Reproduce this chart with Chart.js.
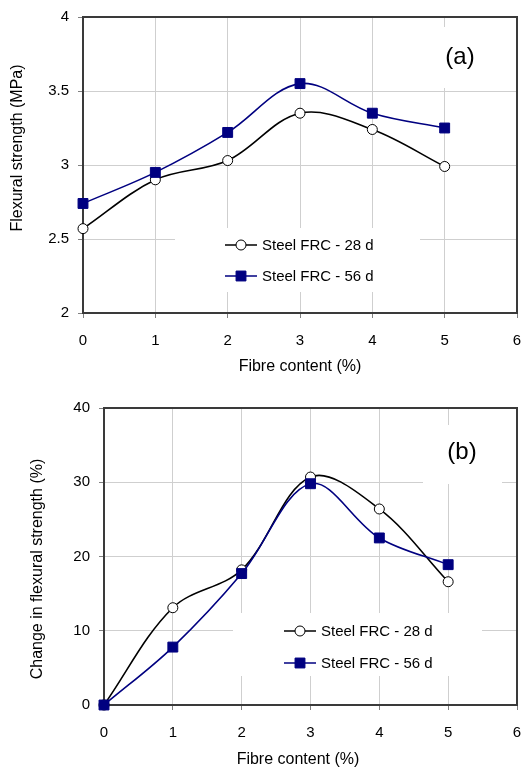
<!DOCTYPE html>
<html>
<head>
<meta charset="utf-8">
<script src="https://cdn.jsdelivr.net/npm/chart.js@4.4.1/dist/chart.umd.min.js"></script>
<style>
  html, body { margin: 0; padding: 0; background: #fff; }
  #wrap { position: relative; width: 525px; height: 767px; overflow: hidden; }
  canvas { position: absolute; left: 0; }
  #chartA { top: 0; }
  #chartB { top: 380px; }
</style>
</head>
<body>
<div id="wrap">
  <canvas id="chartA" width="525" height="380"></canvas>
  <canvas id="chartB" width="525" height="387"></canvas>
</div>
<script>
// values
const fibreContent = [0, 1, 2, 3, 4, 5];
const strength28 = [2.57, 2.90, 3.03, 3.35, 3.24, 2.99];
const strength56 = [2.74, 2.95, 3.22, 3.55, 3.35, 3.25];
const change28 = [0, 13.1, 18.2, 30.7, 26.4, 16.6];
const change56 = [0, 7.8, 17.7, 29.8, 22.5, 18.9];
const seriesLabels = ['Steel FRC - 28 d', 'Steel FRC - 56 d'];

const FONT = 'Liberation Sans, Arial, sans-serif';
const NAVY = '#000080';
const AXIS = '#3a3a3a';
const GRID = '#cfcfcf';

function toPoints(ys) {
    return fibreContent.map((x, i) => ({ x: x, y: ys[i] }));
}

// draws the outer frame, white boxes, legend, panel label and axis titles
const decorPlugin = {
    id: 'decor',
    beforeDatasetsDraw(chart, args, opts) {
        const ctx = chart.ctx;
        const a = chart.chartArea;
        ctx.save();
        ctx.fillStyle = '#fff';
        const lb = opts.legendBox;
        ctx.fillRect(lb.x, lb.y, lb.w, lb.h);
        const pb = opts.labelBox;
        ctx.fillRect(pb.x, pb.y, pb.w, pb.h);
        ctx.strokeStyle = AXIS;
        ctx.lineWidth = 2;
        ctx.beginPath();
        ctx.moveTo(a.left, a.top);
        ctx.lineTo(a.right, a.top);
        ctx.lineTo(a.right, a.bottom);
        ctx.stroke();
        ctx.restore();
    },
    afterDraw(chart, args, opts) {
        const ctx = chart.ctx;
        ctx.save();
        ctx.fillStyle = '#000';

        // panel label
        ctx.font = '24px ' + FONT;
        ctx.textAlign = 'center';
        ctx.textBaseline = 'middle';
        ctx.fillText(opts.panel.text, opts.panel.x, opts.panel.y);

        // legend
        const lg = opts.legend;
        chart.data.datasets.forEach((ds, i) => {
            const y = lg.rows[i];
            const cx = (lg.x1 + lg.x2) / 2;
            ctx.strokeStyle = ds.borderColor;
            ctx.lineWidth = 1.5;
            ctx.beginPath();
            ctx.moveTo(lg.x1, y);
            ctx.lineTo(lg.x2, y);
            ctx.stroke();
            ctx.fillStyle = ds.pointBackgroundColor;
            ctx.strokeStyle = ds.pointBorderColor;
            ctx.lineWidth = ds.pointBorderWidth;
            ctx.beginPath();
            if (ds.pointStyle === 'rect') {
                const s = Math.SQRT1_2 * ds.pointRadius;
                ctx.rect(cx - s, y - s, 2 * s, 2 * s);
            } else {
                ctx.arc(cx, y, ds.pointRadius, 0, Math.PI * 2);
            }
            ctx.fill();
            ctx.stroke();
            ctx.fillStyle = '#000';
            ctx.font = '15px ' + FONT;
            ctx.textAlign = 'left';
            ctx.textBaseline = 'middle';
            ctx.fillText(ds.label, lg.tx, y + 1);
        });

        // axis titles
        ctx.font = '16px ' + FONT;
        ctx.textAlign = 'center';
        ctx.textBaseline = 'middle';
        ctx.fillText('Fibre content (%)', opts.xTitle.x, opts.xTitle.y);
        ctx.translate(opts.yTitle.x, opts.yTitle.y);
        ctx.rotate(-Math.PI / 2);
        ctx.fillText(opts.yTitle.text, 0, 0);
        ctx.restore();
    }
};

function makeChart(id, ys28, ys56, yMin, yMax, yStep, box, decor) {
    const datasets = [
        {
            label: seriesLabels[0],
            data: toPoints(ys28),
            borderColor: '#000',
            borderWidth: 1.6,
            pointStyle: 'circle',
            pointRadius: 5,
            pointBorderWidth: 1,
            pointBackgroundColor: '#fff',
            pointBorderColor: '#000',
            tension: 0.35,
            clip: false,
            order: 1,
        },
        {
            label: seriesLabels[1],
            data: toPoints(ys56),
            borderColor: NAVY,
            borderWidth: 1.6,
            pointStyle: 'rect',
            pointRadius: 7,
            pointBorderWidth: 1,
            pointBackgroundColor: NAVY,
            pointBorderColor: NAVY,
            tension: 0.35,
            clip: false,
            order: 0,
        },
    ];
    return new Chart(document.getElementById(id), {
        type: 'line',
        data: { datasets: datasets },
        plugins: [decorPlugin],
        options: {
            responsive: false,
            animation: false,
            layout: { padding: { top: box.top, right: box.right, left: 0, bottom: 0 } },
            plugins: {
                legend: { display: false },
                tooltip: { enabled: false },
                decor: decor,
            },
            scales: {
                x: {
                    type: 'linear',
                    min: 0,
                    max: 6,
                    ticks: { stepSize: 1, maxRotation: 0, color: '#000', padding: 14, font: { family: FONT, size: 15 } },
                    grid: { color: GRID, tickColor: '#808080', tickLength: 5 },
                    border: { color: AXIS, width: 2 },
                    afterFit(scale) {
                        scale.height = box.xHeight;
                        scale.paddingLeft = 0;
                        scale.paddingRight = 0;
                    },
                },
                y: {
                    min: yMin,
                    max: yMax,
                    ticks: {
                        stepSize: yStep,
                        color: '#000',
                        padding: 9,
                        font: { family: FONT, size: 15 },
                        callback: (v) => String(v),
                    },
                    grid: { color: GRID, tickColor: '#808080', tickLength: 5 },
                    border: { color: AXIS, width: 2 },
                    afterFit(scale) {
                        scale.width = box.yWidth;
                        scale.paddingTop = 0;
                        scale.paddingBottom = 0;
                    },
                },
            },
        },
    });
}

makeChart('chartA', strength28, strength56, 2, 4, 0.5,
    { top: 17, right: 7, xHeight: 67, yWidth: 83 },
    {
        legendBox: { x: 175, y: 228, w: 245, h: 64 },
        labelBox: { x: 420, y: 27, w: 80, h: 61 },
        legend: { x1: 225, x2: 257, tx: 262, rows: [245, 276] },
        panel: { text: '(a)', x: 460, y: 57 },
        xTitle: { x: 300, y: 367 },
        yTitle: { text: 'Flexural strength (MPa)', x: 18, y: 148 },
    });

makeChart('chartB', change28, change56, 0, 40, 10,
    { top: 28, right: 8, xHeight: 62, yWidth: 104 },
    {
        legendBox: { x: 233, y: 233, w: 249, h: 63 },
        labelBox: { x: 423, y: 45, w: 79, h: 59 },
        legend: { x1: 284, x2: 316, tx: 321, rows: [251, 283] },
        panel: { text: '(b)', x: 462, y: 72 },
        xTitle: { x: 298, y: 380 },
        yTitle: { text: 'Change in flexural strength (%)', x: 38, y: 189 },
    });
</script>
</body>
</html>
